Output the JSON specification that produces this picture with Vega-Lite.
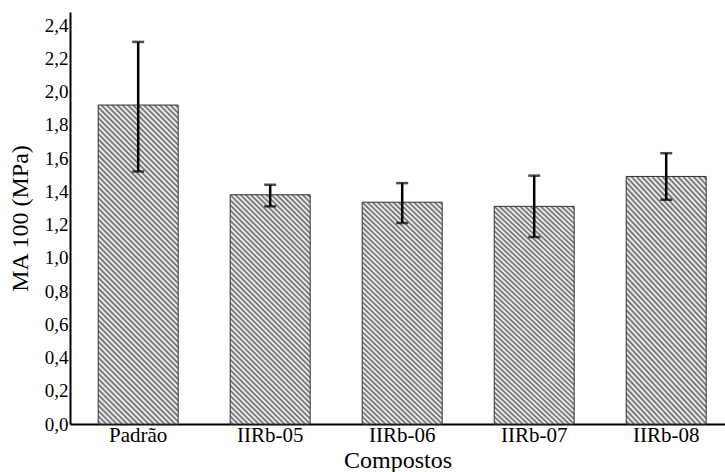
{
  "$schema": "https://vega.github.io/schema/vega-lite/v6.json",
  "width": 655,
  "height": 412,
  "autosize": {"type": "none"},
  "padding": {"left": 70, "top": 12, "right": 0, "bottom": 48},
  "background": "white",
  "config": {
    "view": {"stroke": null},
    "font": "Liberation Serif",
    "axisY": {
      "titleFont": "Liberation Serif",
      "titleFontSize": 24,
      "titleFontWeight": "normal",
      "titleColor": "black",
      "titlePadding": 12,
      "labelFont": "Liberation Serif",
      "labelFontSize": 19,
      "labelColor": "black",
      "labelPadding": 2,
      "labelOverlap": false,
      "labelBound": false,
      "ticks": false,
      "grid": false,
      "domainColor": "black",
      "domainWidth": 2
    }
  },
  "data": {
    "values": [
      {"composto": "Padrão", "ma100": 1.92, "lo": 1.52, "hi": 2.30},
      {"composto": "IIRb-05", "ma100": 1.38, "lo": 1.31, "hi": 1.44},
      {"composto": "IIRb-06", "ma100": 1.335, "lo": 1.21, "hi": 1.45},
      {"composto": "IIRb-07", "ma100": 1.31, "lo": 1.125, "hi": 1.495},
      {"composto": "IIRb-08", "ma100": 1.49, "lo": 1.35, "hi": 1.63}
    ]
  },
  "encoding": {
    "x": {
      "field": "composto",
      "type": "nominal",
      "sort": null,
      "scale": {"paddingInner": 0.394, "paddingOuter": 0.178, "align": 0.6},
      "axis": {
        "title": "Compostos",
        "titleFont": "Liberation Serif",
        "titleFontSize": 24,
        "titleFontWeight": "normal",
        "titleColor": "black",
        "titlePadding": 3,
        "labelAngle": 0,
        "labelFont": "Liberation Serif",
        "labelFontSize": 21,
        "labelColor": "black",
        "labelPadding": 0,
        "ticks": false,
        "domainColor": "black",
        "domainWidth": 2
      }
    }
  },
  "layer": [
    {
      "mark": {"type": "bar", "stroke": "#333", "strokeWidth": 1},
      "encoding": {
        "y": {
          "field": "ma100",
          "type": "quantitative",
          "scale": {"domain": [0, 2.48], "nice": false},
          "axis": {
            "title": "MA 100 (MPa)",
            "values": [0, 0.2, 0.4, 0.6, 0.8, 1.0, 1.2, 1.4, 1.6, 1.8, 2.0, 2.2, 2.4],
            "labelExpr": "replace(format(datum.value, '.1f'), '.', ',')"
          }
        },
        "fill": {
          "condition": {
            "test": "datum.composto === 'Padrão'",
            "value": {
              "gradient": "linear", "x1": 0, "y1": 1, "x2": 0.2961, "y2": -0.1771,
              "stops": [
                {"offset":0,"color":"#fff"},{"offset":0.0067,"color":"#666"},{"offset":0.0133,"color":"#fff"},{"offset":0.02,"color":"#666"},{"offset":0.0267,"color":"#fff"},{"offset":0.0333,"color":"#666"},{"offset":0.04,"color":"#fff"},{"offset":0.0467,"color":"#666"},{"offset":0.0533,"color":"#fff"},{"offset":0.06,"color":"#666"},{"offset":0.0667,"color":"#fff"},{"offset":0.0733,"color":"#666"},{"offset":0.08,"color":"#fff"},{"offset":0.0867,"color":"#666"},{"offset":0.0933,"color":"#fff"},
                {"offset":0.1,"color":"#666"},{"offset":0.1067,"color":"#fff"},{"offset":0.1133,"color":"#666"},{"offset":0.12,"color":"#fff"},{"offset":0.1267,"color":"#666"},{"offset":0.1333,"color":"#fff"},{"offset":0.14,"color":"#666"},{"offset":0.1467,"color":"#fff"},{"offset":0.1533,"color":"#666"},{"offset":0.16,"color":"#fff"},{"offset":0.1667,"color":"#666"},{"offset":0.1733,"color":"#fff"},{"offset":0.18,"color":"#666"},{"offset":0.1867,"color":"#fff"},{"offset":0.1933,"color":"#666"},
                {"offset":0.2,"color":"#fff"},{"offset":0.2067,"color":"#666"},{"offset":0.2133,"color":"#fff"},{"offset":0.22,"color":"#666"},{"offset":0.2267,"color":"#fff"},{"offset":0.2333,"color":"#666"},{"offset":0.24,"color":"#fff"},{"offset":0.2467,"color":"#666"},{"offset":0.2533,"color":"#fff"},{"offset":0.26,"color":"#666"},{"offset":0.2667,"color":"#fff"},{"offset":0.2733,"color":"#666"},{"offset":0.28,"color":"#fff"},{"offset":0.2867,"color":"#666"},{"offset":0.2933,"color":"#fff"},
                {"offset":0.3,"color":"#666"},{"offset":0.3067,"color":"#fff"},{"offset":0.3133,"color":"#666"},{"offset":0.32,"color":"#fff"},{"offset":0.3267,"color":"#666"},{"offset":0.3333,"color":"#fff"},{"offset":0.34,"color":"#666"},{"offset":0.3467,"color":"#fff"},{"offset":0.3533,"color":"#666"},{"offset":0.36,"color":"#fff"},{"offset":0.3667,"color":"#666"},{"offset":0.3733,"color":"#fff"},{"offset":0.38,"color":"#666"},{"offset":0.3867,"color":"#fff"},{"offset":0.3933,"color":"#666"},
                {"offset":0.4,"color":"#fff"},{"offset":0.4067,"color":"#666"},{"offset":0.4133,"color":"#fff"},{"offset":0.42,"color":"#666"},{"offset":0.4267,"color":"#fff"},{"offset":0.4333,"color":"#666"},{"offset":0.44,"color":"#fff"},{"offset":0.4467,"color":"#666"},{"offset":0.4533,"color":"#fff"},{"offset":0.46,"color":"#666"},{"offset":0.4667,"color":"#fff"},{"offset":0.4733,"color":"#666"},{"offset":0.48,"color":"#fff"},{"offset":0.4867,"color":"#666"},{"offset":0.4933,"color":"#fff"},
                {"offset":0.5,"color":"#666"},{"offset":0.5067,"color":"#fff"},{"offset":0.5133,"color":"#666"},{"offset":0.52,"color":"#fff"},{"offset":0.5267,"color":"#666"},{"offset":0.5333,"color":"#fff"},{"offset":0.54,"color":"#666"},{"offset":0.5467,"color":"#fff"},{"offset":0.5533,"color":"#666"},{"offset":0.56,"color":"#fff"},{"offset":0.5667,"color":"#666"},{"offset":0.5733,"color":"#fff"},{"offset":0.58,"color":"#666"},{"offset":0.5867,"color":"#fff"},{"offset":0.5933,"color":"#666"},
                {"offset":0.6,"color":"#fff"},{"offset":0.6067,"color":"#666"},{"offset":0.6133,"color":"#fff"},{"offset":0.62,"color":"#666"},{"offset":0.6267,"color":"#fff"},{"offset":0.6333,"color":"#666"},{"offset":0.64,"color":"#fff"},{"offset":0.6467,"color":"#666"},{"offset":0.6533,"color":"#fff"},{"offset":0.66,"color":"#666"},{"offset":0.6667,"color":"#fff"},{"offset":0.6733,"color":"#666"},{"offset":0.68,"color":"#fff"},{"offset":0.6867,"color":"#666"},{"offset":0.6933,"color":"#fff"},
                {"offset":0.7,"color":"#666"},{"offset":0.7067,"color":"#fff"},{"offset":0.7133,"color":"#666"},{"offset":0.72,"color":"#fff"},{"offset":0.7267,"color":"#666"},{"offset":0.7333,"color":"#fff"},{"offset":0.74,"color":"#666"},{"offset":0.7467,"color":"#fff"},{"offset":0.7533,"color":"#666"},{"offset":0.76,"color":"#fff"},{"offset":0.7667,"color":"#666"},{"offset":0.7733,"color":"#fff"},{"offset":0.78,"color":"#666"},{"offset":0.7867,"color":"#fff"},{"offset":0.7933,"color":"#666"},
                {"offset":0.8,"color":"#fff"},{"offset":0.8067,"color":"#666"},{"offset":0.8133,"color":"#fff"},{"offset":0.82,"color":"#666"},{"offset":0.8267,"color":"#fff"},{"offset":0.8333,"color":"#666"},{"offset":0.84,"color":"#fff"},{"offset":0.8467,"color":"#666"},{"offset":0.8533,"color":"#fff"},{"offset":0.86,"color":"#666"},{"offset":0.8667,"color":"#fff"},{"offset":0.8733,"color":"#666"},{"offset":0.88,"color":"#fff"},{"offset":0.8867,"color":"#666"},{"offset":0.8933,"color":"#fff"},
                {"offset":0.9,"color":"#666"},{"offset":0.9067,"color":"#fff"},{"offset":0.9133,"color":"#666"},{"offset":0.92,"color":"#fff"},{"offset":0.9267,"color":"#666"},{"offset":0.9333,"color":"#fff"},{"offset":0.94,"color":"#666"},{"offset":0.9467,"color":"#fff"},{"offset":0.9533,"color":"#666"},{"offset":0.96,"color":"#fff"},{"offset":0.9667,"color":"#666"},{"offset":0.9733,"color":"#fff"},{"offset":0.98,"color":"#666"},{"offset":0.9867,"color":"#fff"},{"offset":0.9933,"color":"#666"},
                {"offset":1,"color":"#fff"}
              ]
            }
          },
          "value": {
            "gradient": "linear", "x1": 0, "y1": 1, "x2": 0.4182, "y2": -0.2024,
            "stops": [
              {"offset":0,"color":"#fff"},{"offset":0.0083,"color":"#666"},{"offset":0.0167,"color":"#fff"},{"offset":0.025,"color":"#666"},{"offset":0.0333,"color":"#fff"},{"offset":0.0417,"color":"#666"},{"offset":0.05,"color":"#fff"},{"offset":0.0583,"color":"#666"},{"offset":0.0667,"color":"#fff"},{"offset":0.075,"color":"#666"},{"offset":0.0833,"color":"#fff"},{"offset":0.0917,"color":"#666"},
              {"offset":0.1,"color":"#fff"},{"offset":0.1083,"color":"#666"},{"offset":0.1167,"color":"#fff"},{"offset":0.125,"color":"#666"},{"offset":0.1333,"color":"#fff"},{"offset":0.1417,"color":"#666"},{"offset":0.15,"color":"#fff"},{"offset":0.1583,"color":"#666"},{"offset":0.1667,"color":"#fff"},{"offset":0.175,"color":"#666"},{"offset":0.1833,"color":"#fff"},{"offset":0.1917,"color":"#666"},
              {"offset":0.2,"color":"#fff"},{"offset":0.2083,"color":"#666"},{"offset":0.2167,"color":"#fff"},{"offset":0.225,"color":"#666"},{"offset":0.2333,"color":"#fff"},{"offset":0.2417,"color":"#666"},{"offset":0.25,"color":"#fff"},{"offset":0.2583,"color":"#666"},{"offset":0.2667,"color":"#fff"},{"offset":0.275,"color":"#666"},{"offset":0.2833,"color":"#fff"},{"offset":0.2917,"color":"#666"},
              {"offset":0.3,"color":"#fff"},{"offset":0.3083,"color":"#666"},{"offset":0.3167,"color":"#fff"},{"offset":0.325,"color":"#666"},{"offset":0.3333,"color":"#fff"},{"offset":0.3417,"color":"#666"},{"offset":0.35,"color":"#fff"},{"offset":0.3583,"color":"#666"},{"offset":0.3667,"color":"#fff"},{"offset":0.375,"color":"#666"},{"offset":0.3833,"color":"#fff"},{"offset":0.3917,"color":"#666"},
              {"offset":0.4,"color":"#fff"},{"offset":0.4083,"color":"#666"},{"offset":0.4167,"color":"#fff"},{"offset":0.425,"color":"#666"},{"offset":0.4333,"color":"#fff"},{"offset":0.4417,"color":"#666"},{"offset":0.45,"color":"#fff"},{"offset":0.4583,"color":"#666"},{"offset":0.4667,"color":"#fff"},{"offset":0.475,"color":"#666"},{"offset":0.4833,"color":"#fff"},{"offset":0.4917,"color":"#666"},
              {"offset":0.5,"color":"#fff"},{"offset":0.5083,"color":"#666"},{"offset":0.5167,"color":"#fff"},{"offset":0.525,"color":"#666"},{"offset":0.5333,"color":"#fff"},{"offset":0.5417,"color":"#666"},{"offset":0.55,"color":"#fff"},{"offset":0.5583,"color":"#666"},{"offset":0.5667,"color":"#fff"},{"offset":0.575,"color":"#666"},{"offset":0.5833,"color":"#fff"},{"offset":0.5917,"color":"#666"},
              {"offset":0.6,"color":"#fff"},{"offset":0.6083,"color":"#666"},{"offset":0.6167,"color":"#fff"},{"offset":0.625,"color":"#666"},{"offset":0.6333,"color":"#fff"},{"offset":0.6417,"color":"#666"},{"offset":0.65,"color":"#fff"},{"offset":0.6583,"color":"#666"},{"offset":0.6667,"color":"#fff"},{"offset":0.675,"color":"#666"},{"offset":0.6833,"color":"#fff"},{"offset":0.6917,"color":"#666"},
              {"offset":0.7,"color":"#fff"},{"offset":0.7083,"color":"#666"},{"offset":0.7167,"color":"#fff"},{"offset":0.725,"color":"#666"},{"offset":0.7333,"color":"#fff"},{"offset":0.7417,"color":"#666"},{"offset":0.75,"color":"#fff"},{"offset":0.7583,"color":"#666"},{"offset":0.7667,"color":"#fff"},{"offset":0.775,"color":"#666"},{"offset":0.7833,"color":"#fff"},{"offset":0.7917,"color":"#666"},
              {"offset":0.8,"color":"#fff"},{"offset":0.8083,"color":"#666"},{"offset":0.8167,"color":"#fff"},{"offset":0.825,"color":"#666"},{"offset":0.8333,"color":"#fff"},{"offset":0.8417,"color":"#666"},{"offset":0.85,"color":"#fff"},{"offset":0.8583,"color":"#666"},{"offset":0.8667,"color":"#fff"},{"offset":0.875,"color":"#666"},{"offset":0.8833,"color":"#fff"},{"offset":0.8917,"color":"#666"},
              {"offset":0.9,"color":"#fff"},{"offset":0.9083,"color":"#666"},{"offset":0.9167,"color":"#fff"},{"offset":0.925,"color":"#666"},{"offset":0.9333,"color":"#fff"},{"offset":0.9417,"color":"#666"},{"offset":0.95,"color":"#fff"},{"offset":0.9583,"color":"#666"},{"offset":0.9667,"color":"#fff"},{"offset":0.975,"color":"#666"},{"offset":0.9833,"color":"#fff"},{"offset":0.9917,"color":"#666"},
              {"offset":1,"color":"#fff"}
            ]
          }
        }
      }
    },
    {
      "mark": {"type": "rule", "color": "black", "strokeWidth": 2.5},
      "encoding": {
        "y": {
          "field": "lo", "type": "quantitative",
          "axis": {
            "title": "MA 100 (MPa)",
            "values": [0, 0.2, 0.4, 0.6, 0.8, 1.0, 1.2, 1.4, 1.6, 1.8, 2.0, 2.2, 2.4],
            "labelExpr": "replace(format(datum.value, '.1f'), '.', ',')"
          }
        },
        "y2": {"field": "hi"}
      }
    },
    {
      "mark": {"type": "tick", "color": "black", "size": 12, "thickness": 2.5},
      "encoding": {
        "y": {
          "field": "lo", "type": "quantitative",
          "axis": {
            "title": "MA 100 (MPa)",
            "values": [0, 0.2, 0.4, 0.6, 0.8, 1.0, 1.2, 1.4, 1.6, 1.8, 2.0, 2.2, 2.4],
            "labelExpr": "replace(format(datum.value, '.1f'), '.', ',')"
          }
        }
      }
    },
    {
      "mark": {"type": "tick", "color": "black", "size": 12, "thickness": 2.5},
      "encoding": {
        "y": {
          "field": "hi", "type": "quantitative",
          "axis": {
            "title": "MA 100 (MPa)",
            "values": [0, 0.2, 0.4, 0.6, 0.8, 1.0, 1.2, 1.4, 1.6, 1.8, 2.0, 2.2, 2.4],
            "labelExpr": "replace(format(datum.value, '.1f'), '.', ',')"
          }
        }
      }
    }
  ]
}
